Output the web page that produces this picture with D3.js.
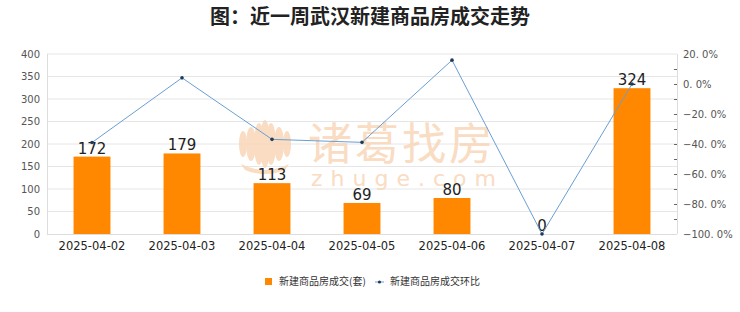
<!DOCTYPE html>
<html><head><meta charset="utf-8">
<script src="https://cdn.jsdelivr.net/npm/d3@7/dist/d3.min.js"></script>
<style>body{margin:0;background:#fff}svg{display:block;font-family:"Noto Sans CJK SC","DejaVu Sans",sans-serif}</style>
</head><body><svg id="c" width="740" height="312"></svg>
<script>
const categories = ["2025-04-02","2025-04-03","2025-04-04","2025-04-05","2025-04-06","2025-04-07","2025-04-08"];
const volume = [172,179,113,69,80,0,324];
const ratio = [-39.0,4.1,-36.9,-38.9,15.9,-100.0,0.0];
const leftTicks = [0,50,100,150,200,250,300,350,400];
const rightTicks = [20,0,-20,-40,-60,-80,-100];
const barName = "新建商品房成交(套)";
const lineName = "新建商品房成交环比";
const title = "图：近一周武汉新建商品房成交走势";

const svg = d3.select("#c");
const L=47,R=677,T=54,B=234;
const x = d3.scaleBand().domain(categories).range([L,R]).paddingInner(0.59).paddingOuter(0.295);
const y = d3.scaleLinear().domain([0,400]).range([B,T]);
const y2 = d3.scaleLinear().domain([-100,20]).range([B,T]);

svg.append("text").attr("x",370).attr("y",24).attr("text-anchor","middle")
  .attr("font-size",20).attr("font-weight","bold").attr("fill","#222").text(title);

// gridlines
svg.append("g").selectAll("line").data(leftTicks.slice(1)).join("line")
  .attr("x1",L).attr("x2",R).attr("y1",d=>y(d)).attr("y2",d=>y(d))
  .attr("stroke","#e6e6e6").attr("stroke-width",1);
// border
svg.append("line").attr("x1",L+0.5).attr("x2",L+0.5).attr("y1",T).attr("y2",B).attr("stroke","#ddd");
svg.append("line").attr("x1",R+0.5).attr("x2",R+0.5).attr("y1",T).attr("y2",B).attr("stroke","#ddd");
svg.append("line").attr("x1",L).attr("x2",R).attr("y1",B+0.5).attr("y2",B+0.5).attr("stroke","#ddd");

// watermark
const wm = svg.append("g").attr("fill","#f8d6b8").attr("opacity",0.85);
const lg = wm.append("g").attr("transform","translate(265,146)");
[-22,-14,-6,0,6,14,22].forEach((dx,i)=>{
  const h = 24 - Math.abs(dx)*0.5;
  lg.append("ellipse").attr("cx",dx).attr("cy",-2).attr("rx",Math.abs(dx)>16?4:5).attr("ry",h);
});
lg.append("path").attr("d","M-24,18 Q0,30 24,18 L20,24 Q0,32 -20,24 Z");
wm.append("text").attr("x",308).attr("y",160).attr("font-size",44).text("诸葛找房").attr("letter-spacing",3);
wm.append("text").attr("x",311).attr("y",186).attr("font-size",22).attr("letter-spacing",8)
  .attr("font-family","DejaVu Sans").text("zhuge.com");

// left axis labels
svg.append("g").selectAll("text").data(leftTicks).join("text")
  .attr("x",L-7).attr("y",d=>y(d)+3.5).attr("text-anchor","end")
  .attr("font-size",10).attr("fill","#555").attr("font-family","DejaVu Sans, sans-serif").text(d=>d);
// right axis
const minor = d3.range(-90,20,20);
svg.append("g").selectAll("line").data(rightTicks.concat(minor).filter(d=>d<20&&d>-100)).join("line")
  .attr("x1",R-3).attr("x2",R).attr("y1",d=>Math.round(y2(d))+0.5).attr("y2",d=>Math.round(y2(d))+0.5)
  .attr("stroke","#666");
svg.append("g").selectAll("text").data(rightTicks).join("text")
  .attr("x",R+6).attr("y",d=>y2(d)+3.5).attr("text-anchor","start")
  .attr("font-size",10).attr("fill","#555").attr("font-family","DejaVu Sans, sans-serif")
  .text(d=>(d<0?"−":"")+Math.abs(d).toFixed(0)+". 0%");
// x labels
svg.append("g").selectAll("text").data(categories).join("text")
  .attr("x",d=>x(d)+x.bandwidth()/2).attr("y",B+16).attr("text-anchor","middle")
  .attr("font-size",11.5).attr("fill","#222").attr("font-family","DejaVu Sans, sans-serif").text(d=>d);

// bars
svg.append("g").selectAll("rect").data(volume).join("rect")
  .attr("x",(d,i)=>x(categories[i])).attr("width",x.bandwidth())
  .attr("y",d=>y(d)).attr("height",d=>B-y(d)).attr("fill","#ff8800");
svg.append("g").selectAll("text").data(volume).join("text")
  .attr("x",(d,i)=>x(categories[i])+x.bandwidth()/2).attr("y",d=>y(d)-3)
  .attr("text-anchor","middle").attr("font-size",15).attr("fill","#222")
  .attr("font-family","DejaVu Sans, sans-serif").text(d=>d);

// line
const cx = (i)=>x(categories[i])+x.bandwidth()/2;
svg.append("path").datum(ratio).attr("fill","none").attr("stroke","#6a9fd4").attr("stroke-width",1)
  .attr("d",d3.line().x((d,i)=>cx(i)).y(d=>y2(d)));
svg.append("g").selectAll("circle").data(ratio).join("circle")
  .attr("cx",(d,i)=>cx(i)).attr("cy",d=>y2(d)).attr("r",1.8).attr("fill","#1f3b5a");

// legend
const lgd = svg.append("g").attr("font-size",10).attr("fill","#333");
lgd.append("rect").attr("x",265).attr("y",278).attr("width",7).attr("height",7).attr("fill","#ff8800");
lgd.append("text").attr("x",279).attr("y",285).text(barName);
lgd.append("line").attr("x1",375).attr("x2",384).attr("y1",282).attr("y2",282).attr("stroke","#6a9fd4");
lgd.append("circle").attr("cx",379.5).attr("cy",282).attr("r",1.6).attr("fill","#1f3b5a");
lgd.append("text").attr("x",390).attr("y",285).text(lineName);
</script></body></html>
